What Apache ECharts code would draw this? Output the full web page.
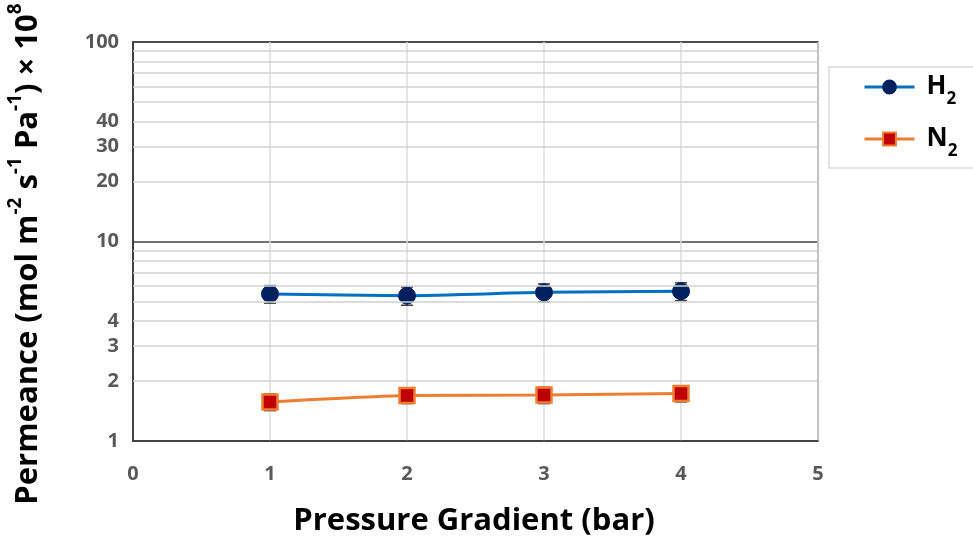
<!DOCTYPE html>
<html>
<head>
<meta charset="utf-8">
<script src="https://cdn.jsdelivr.net/npm/echarts@6/dist/echarts.min.js"></script>
<style>
    html, body { margin: 0; padding: 0; background: #fff; }
    #chartsbox { width: 973px; height: 542px; }
</style>
</head>
<body>
<div id="chartsbox"></div>
<script type="text/javascript">
    // data
    var xValues = [1, 2, 3, 4];
    var h2Values = [5.46, 5.35, 5.56, 5.63];
    var h2Err = [0.55, 0.56, 0.57, 0.58];
    var n2Values = [1.57, 1.69, 1.70, 1.73];
    var n2Err = [0.15, 0.15, 0.16, 0.16];
    var yExtraLabels = [2, 3, 4, 20, 30, 40];
    var yMinorGrid = [2, 3, 4, 5, 6, 7, 8, 9, 20, 30, 40, 50, 60, 70, 80, 90];

    var FONT = 'Open Sans';
    var GRAY = '#595959';

    // points [x, y]
    function MakePoints(aY) {
        var out = [];
        for (var i = 0; i < xValues.length; i++) {
            out.push([xValues[i], aY[i]]);
        }
        return out;
    }
    // error bars [x, low, high]
    function MakeErr(aY, aErr) {
        var out = [];
        for (var i = 0; i < xValues.length; i++) {
            out.push([xValues[i], aY[i] - aErr[i], aY[i] + aErr[i]]);
        }
        return out;
    }
    function RenderErr(params, api) {
        var x = api.value(0);
        var lo = api.coord([x, api.value(1)]);
        var hi = api.coord([x, api.value(2)]);
        var w = 6;
        var st = { stroke: '#404040', lineWidth: 1.5 };
        return {
            type: 'group',
            children: [
                { type: 'line', shape: { x1: lo[0], y1: lo[1], x2: hi[0], y2: hi[1] }, style: st },
                { type: 'line', shape: { x1: hi[0] - w, y1: hi[1], x2: hi[0] + w, y2: hi[1] }, style: st },
                { type: 'line', shape: { x1: lo[0] - w, y1: lo[1], x2: lo[0] + w, y2: lo[1] }, style: st }
            ]
        };
    }

    // minor grid lines + extra tick labels
    var aGridLines = [];
    for (var i = 0; i < yMinorGrid.length; i++) {
        var v = yMinorGrid[i];
        aGridLines.push({
            yAxis: v,
            label: { show: yExtraLabels.indexOf(v) >= 0 }
        });
    }

    var myChart = echarts.init(document.getElementById('chartsbox'));
    var option = {
        animation: false,
        backgroundColor: '#fff',
        textStyle: { fontFamily: FONT },
        grid: {
            left: 133, right: 155, top: 42, bottom: 101,
            show: true,
            borderColor: '#404040',
            borderWidth: 1.5
        },
        legend: {
            orient: 'vertical',
            left: 829,
            top: 67,
            data: ['H2', 'N2'],
            itemWidth: 50,
            itemHeight: 16,
            itemGap: 18,
            padding: [7, 26, 8, 34],
            borderColor: '#d9d9d9',
            borderWidth: 1.5,
            lineStyle: { width: 3 },
            formatter: function (name) {
                return '{b|' + name.charAt(0) + '}{s|2}';
            },
            textStyle: {
                rich: {
                    b: { fontFamily: FONT, fontWeight: 'bold', fontSize: 26, color: '#000', lineHeight: 34, padding: [0, 0, 0, 7] },
                    s: { fontFamily: FONT, fontWeight: 'bold', fontSize: 17, color: '#000', lineHeight: 34, verticalAlign: 'bottom', padding: [0, 0, -4, 0] }
                }
            }
        },
        xAxis: {
            type: 'value',
            min: 0, max: 5, interval: 1,
            axisLine: { show: true, onZero: false, lineStyle: { color: '#404040', width: 1.5 } },
            axisTick: { show: false },
            axisLabel: { fontFamily: FONT, fontWeight: 'bold', fontSize: 20, color: GRAY, margin: 23 },
            splitLine: { show: true, lineStyle: { color: '#dcdcdc', width: 1.5 } }
        },
        yAxis: {
            type: 'log',
            logBase: 10,
            min: 1, max: 100,
            axisLine: { show: true, lineStyle: { color: '#404040', width: 2 } },
            axisTick: { show: false },
            axisLabel: { fontFamily: FONT, fontWeight: 'bold', fontSize: 20, color: GRAY, margin: 14 },
            splitLine: { show: true, lineStyle: { color: '#404040', width: 1.5 } }
        },
        graphic: [
            {
                type: 'text',
                x: 28, y: 254,
                rotation: Math.PI / 2,
                style: {
                    text: '{n|Permeance (mol m}{s|-2}{n| s}{s|-1}{n| Pa}{s|-1}{n|) × 10}{s|8}',
                    align: 'center',
                    verticalAlign: 'middle',
                    rich: {
                        n: { fontFamily: FONT, fontWeight: 'bold', fontSize: 31, fill: '#000', lineHeight: 40, verticalAlign: 'middle' },
                        s: { fontFamily: FONT, fontWeight: 'bold', fontSize: 19, fill: '#000', lineHeight: 40, verticalAlign: 'top', padding: [-2, 0, 0, 0] }
                    }
                }
            },
            {
                type: 'text',
                x: 474, y: 521,
                style: {
                    text: 'Pressure Gradient (bar)',
                    fontFamily: FONT, fontWeight: 'bold', fontSize: 31, fill: '#000',
                    align: 'center', verticalAlign: 'middle'
                }
            }
        ],
        series: [
            {
                name: 'grid',
                type: 'line',
                data: [[0, 1]],
                symbol: 'none',
                lineStyle: { opacity: 0 },
                silent: true,
                z: 1,
                markLine: {
                    silent: true,
                    symbol: 'none',
                    animation: false,
                    lineStyle: { color: '#d0d0d0', width: 1.5, type: 'solid' },
                    label: {
                        show: false,
                        position: 'start',
                        distance: 14,
                        formatter: '{c}',
                        fontFamily: FONT, fontWeight: 'bold', fontSize: 20, color: GRAY
                    },
                    emphasis: { disabled: true },
                    data: aGridLines
                }
            },
            {
                name: 'H2 err',
                type: 'custom',
                renderItem: RenderErr,
                data: MakeErr(h2Values, h2Err),
                encode: { x: 0, y: [1, 2] },
                z: 2,
                silent: true
            },
            {
                name: 'N2 err',
                type: 'custom',
                renderItem: RenderErr,
                data: MakeErr(n2Values, n2Err),
                encode: { x: 0, y: [1, 2] },
                z: 2,
                silent: true
            },
            {
                name: 'H2',
                type: 'line',
                data: MakePoints(h2Values),
                smooth: 0.2,
                symbol: 'circle',
                symbolSize: 17,
                lineStyle: { color: '#0070C0', width: 3 },
                itemStyle: { color: '#002060', borderColor: '#002060', borderWidth: 1 },
                z: 3
            },
            {
                name: 'N2',
                type: 'line',
                data: MakePoints(n2Values),
                smooth: 0.2,
                symbol: 'rect',
                symbolSize: 15,
                lineStyle: { color: '#ED7D31', width: 3 },
                itemStyle: { color: '#C00000', borderColor: '#ED7D31', borderWidth: 2.5 },
                z: 3
            }
        ]
    };
    myChart.setOption(option);
</script>
</body>
</html>
